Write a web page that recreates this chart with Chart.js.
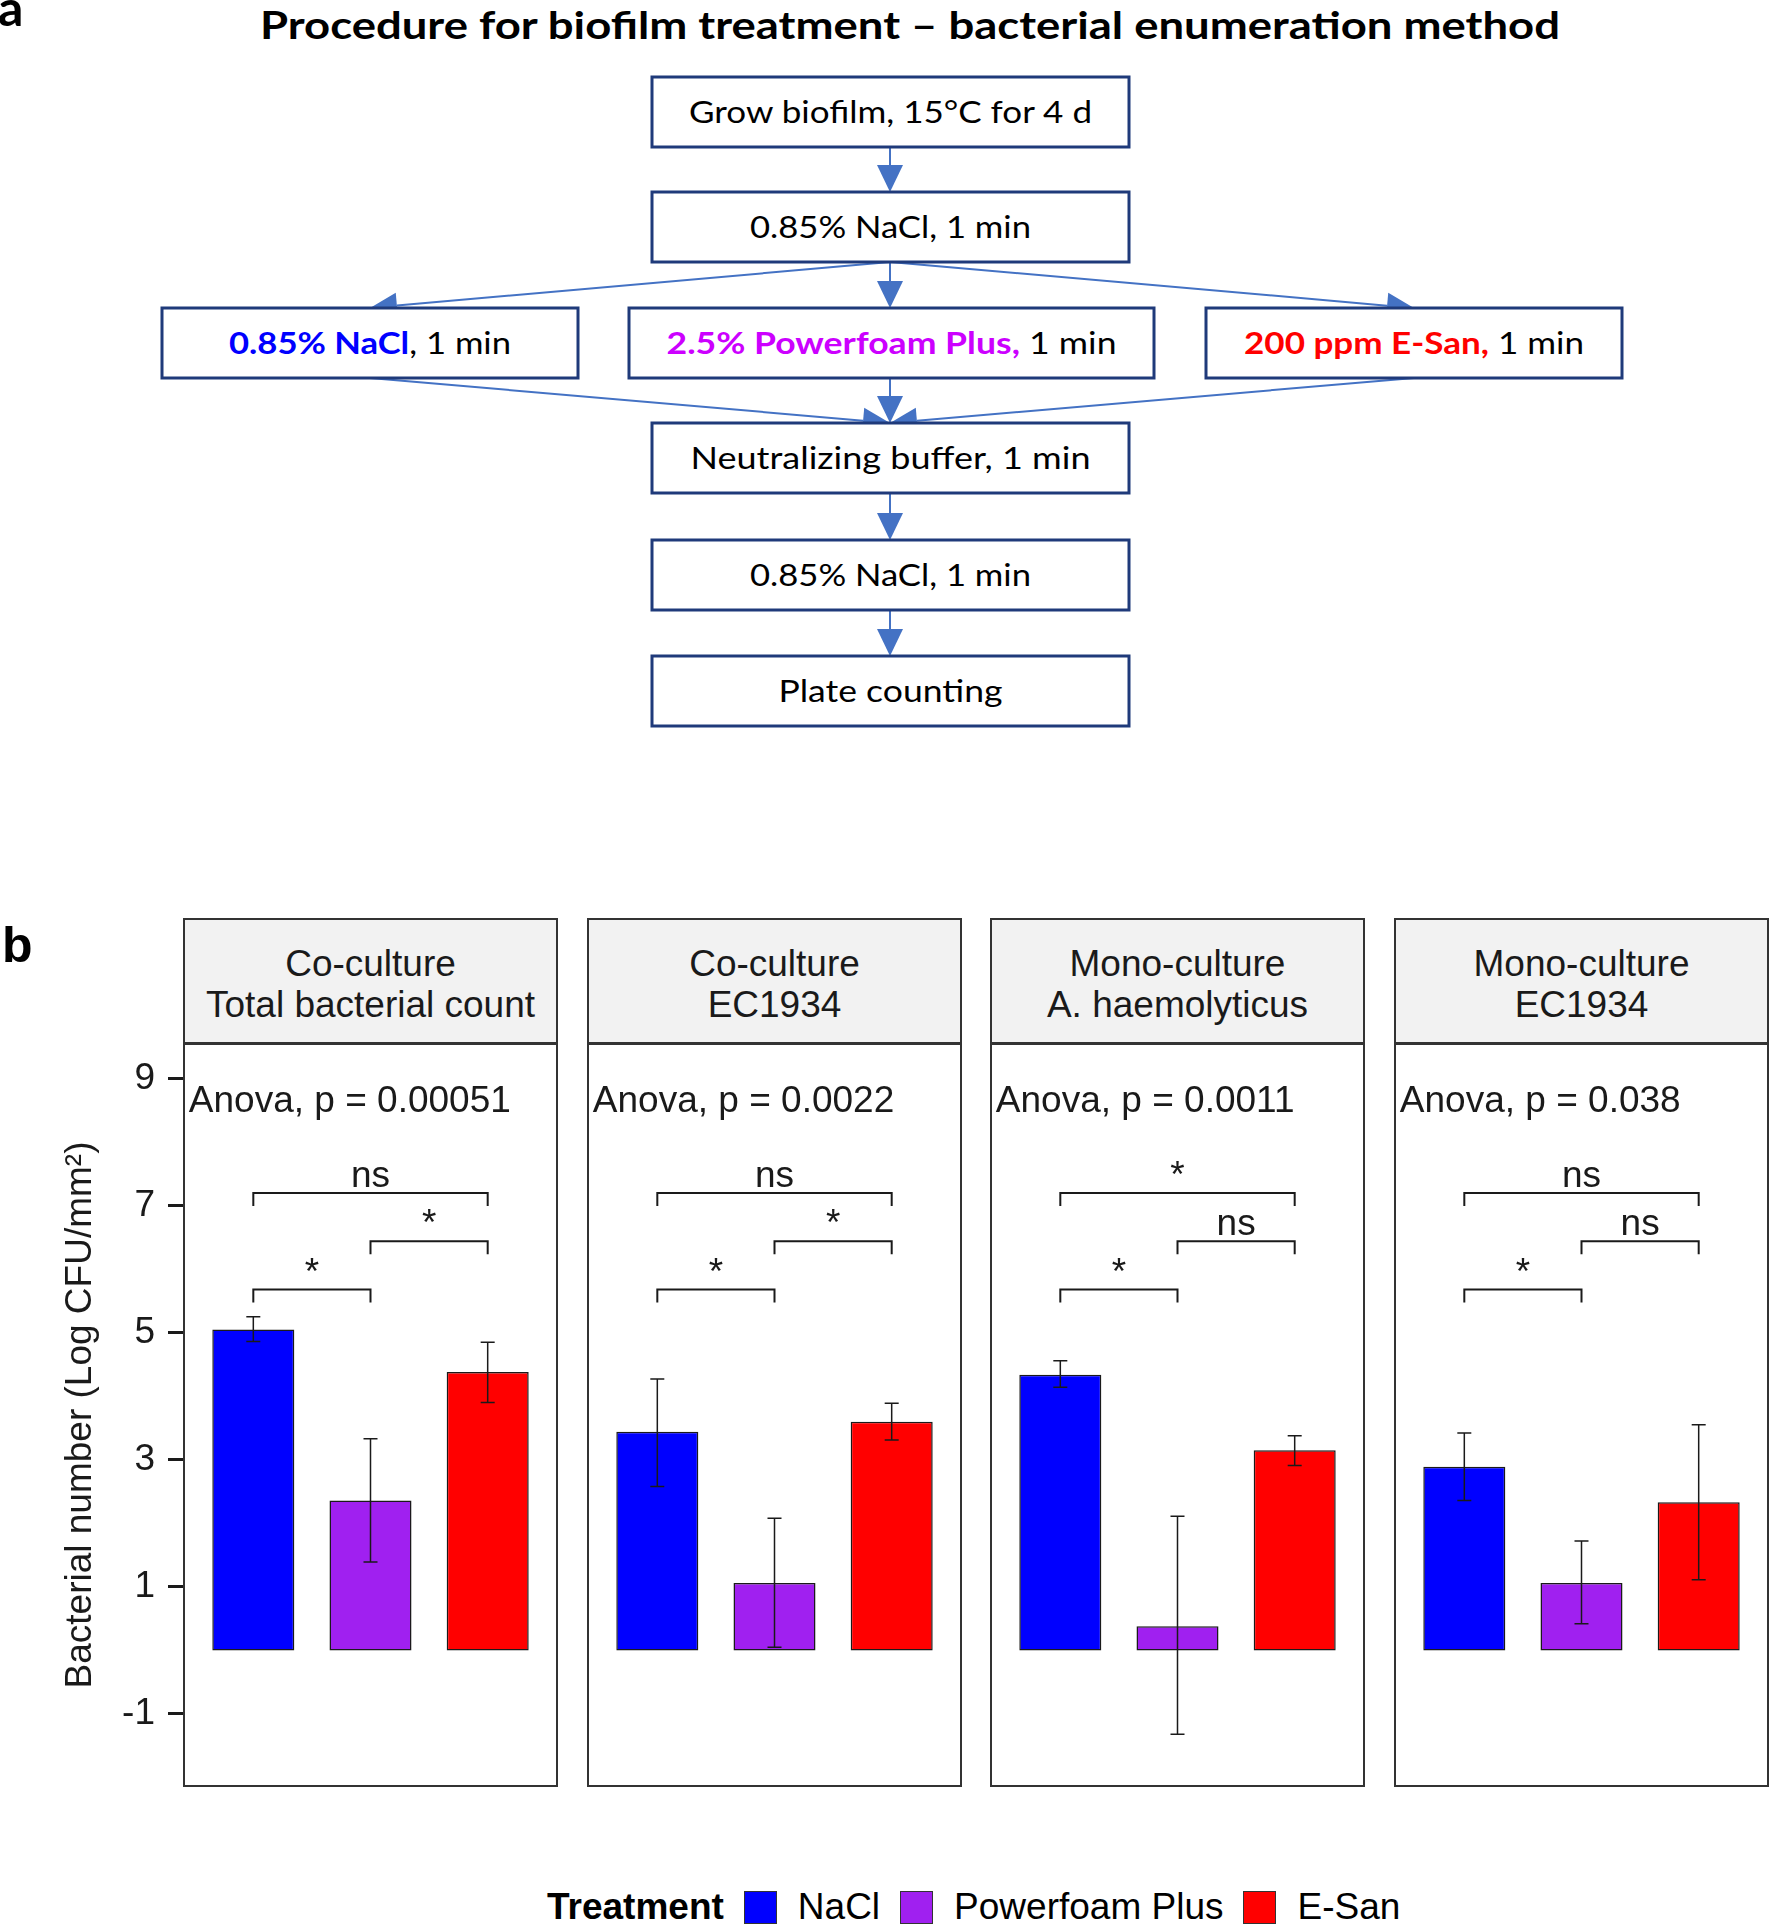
<!DOCTYPE html>
<html>
<head>
<meta charset="utf-8">
<title>Biofilm treatment - bacterial enumeration</title>
<script src="https://cdn.jsdelivr.net/npm/chart.js@4.4.1/dist/chart.umd.min.js"></script>
<style>
    html, body { margin: 0; padding: 0; background: #fff; }
    body {
        width: 1772px; height: 1925px; position: relative; overflow: hidden;
        font-family: "Liberation Sans", Arial, sans-serif; color: #1a1a1a;
    }
    #flow { position: absolute; left: 0; top: 0; }
    canvas { position: absolute; top: 1043px; }
    .strip {
        position: absolute; top: 918px; width: 375px; height: 126px;
        box-sizing: border-box; background: #f2f2f2; border: 2px solid #333;
        padding-top: 6px;
        display: flex; align-items: center; justify-content: center; text-align: center;
        font-size: 37px; line-height: 41px; color: #1a1a1a;
    }
    #legend {
        position: absolute; left: 547px; top: 1884px; height: 46px;
        display: flex; align-items: center; font-size: 37px; color: #000;
    }
    #legend .key { width: 31px; height: 31px; border: 1px solid #333; margin: 0 21px 0 20px; }
    #legend b { font-weight: bold; }
</style>
</head>
<body>
<svg id="flow" width="1772" height="1925" xmlns="http://www.w3.org/2000/svg"></svg>
<div id="strips"></div>
<canvas id="panel0" width="558" height="744" style="left:0px"></canvas>
<canvas id="panel1" width="375" height="744" style="left:587px"></canvas>
<canvas id="panel2" width="375" height="744" style="left:990px"></canvas>
<canvas id="panel3" width="375" height="744" style="left:1394px"></canvas>
<div id="legend"></div>

<script>
// ---- chart data ----
const panelTitles = [
    ['Co-culture', 'Total bacterial count'],
    ['Co-culture', 'EC1934'],
    ['Mono-culture', 'A. haemolyticus'],
    ['Mono-culture', 'EC1934']
];
const treatments = ['NaCl', 'Powerfoam Plus', 'E-San'];
const treatmentColors = ['#0000ff', '#a020f0', '#ff0000'];

// mean Log CFU/mm2 per panel, order NaCl / Powerfoam Plus / E-San
const meanLog = [
    [5.05, 2.36, 4.38],
    [3.44, 1.06, 3.60],
    [4.34, 0.38, 3.15],
    [2.89, 1.06, 2.33]
];
const errHigh = [
    [5.25, 3.33, 4.85],
    [4.27, 2.08, 3.89],
    [4.56, 2.11, 3.38],
    [3.42, 1.72, 3.55]
];
const errLow = [
    [4.86, 1.39, 3.90],
    [2.58, 0.05, 3.31],
    [4.14, -1.32, 2.91],
    [2.36, 0.42, 1.11]
];

const anovaP = ['0.00051', '0.0022', '0.0011', '0.038'];
const anovaX = 0.45;
const anovaY = 8.48;

// pairwise comparisons: groups, bracket height, label per panel
const bracketPairs = [[1, 2], [2, 3], [1, 3]];
const bracketY = [5.68, 6.44, 7.20];
const bracketLabels = [
    ['*', '*', 'ns'],
    ['*', '*', 'ns'],
    ['*', 'ns', '*'],
    ['*', 'ns', 'ns']
];

const yTicks = [-1, 1, 3, 5, 7, 9];
const yMin = -2.15;
const yMax = 9.56;

const panelLeft = [183, 587, 990, 1394];
const FONT = '"Liberation Sans", Arial, sans-serif';

// ---- flowchart (panel a) ----
const flowBoxes = [
    { x: 652, y: 77, w: 477, len: 403, parts: [['Grow biofilm, 15°C for 4 d', '#000', 400]] },
    { x: 652, y: 192, w: 477, len: 281, parts: [['0.85% NaCl, 1 min', '#000', 400]] },
    { x: 162, y: 308, w: 416, len: 282, parts: [['0.85% NaCl', '#0000ff', 700], [', 1 min', '#000', 400]] },
    { x: 629, y: 308, w: 525, len: 450, parts: [['2.5% Powerfoam Plus,', '#cc00ff', 700], [' 1 min', '#000', 400]] },
    { x: 1206, y: 308, w: 416, len: 340, parts: [['200 ppm E-San,', '#ff0000', 700], [' 1 min', '#000', 400]] },
    { x: 652, y: 423, w: 477, len: 400, parts: [['Neutralizing buffer, 1 min', '#000', 400]] },
    { x: 652, y: 540, w: 477, len: 281, parts: [['0.85% NaCl, 1 min', '#000', 400]] },
    { x: 652, y: 656, w: 477, len: 224, parts: [['Plate counting', '#000', 400]] }
];
const boxH = 70;
const flowArrows = [
    [890, 147, 890, 192],
    [890, 262, 370, 308],
    [890, 262, 890, 308],
    [890, 262, 1414, 308],
    [370, 378, 890, 423],
    [890, 378, 890, 423],
    [1414, 378, 890, 423],
    [890, 493, 890, 540],
    [890, 610, 890, 656]
];

function drawFlow() {
    const svg = document.getElementById('flow');
    let html = '';
    html += '<text x="-2" y="26" font-family="Lato, sans-serif" font-weight="700" font-size="50" fill="#000">a</text>';
    html += '<text x="910" y="39" text-anchor="middle" textLength="1300" lengthAdjust="spacingAndGlyphs" ' +
        'font-family="Lato, sans-serif" font-weight="700" font-size="38" fill="#000">' +
        'Procedure for biofilm treatment \u2013 bacterial enumeration method</text>';
    html += '<text x="2" y="962" font-family="' + FONT.replace(/"/g, "'") + '" font-weight="700" font-size="50" fill="#000">b</text>';

    // arrows first so boxes cover the ends like in the original
    flowArrows.forEach(([x1, y1, x2, y2]) => {
        const dx = x2 - x1, dy = y2 - y1;
        const d = Math.hypot(dx, dy);
        const ux = dx / d, uy = dy / d;
        const L = 27, W = 13;
        const bx = x2 - ux * L, by = y2 - uy * L;
        html += `<line x1="${x1}" y1="${y1}" x2="${bx}" y2="${by}" stroke="#4472c4" stroke-width="2"/>`;
        html += `<polygon points="${x2},${y2} ${bx - uy * W},${by + ux * W} ${bx + uy * W},${by - ux * W}" fill="#4472c4"/>`;
    });

    flowBoxes.forEach(b => {
        html += `<rect x="${b.x}" y="${b.y}" width="${b.w}" height="${boxH}" fill="#fff" stroke="#1f3a7a" stroke-width="3"/>`;
        const spans = b.parts.map(([t, c, wgt]) =>
            `<tspan fill="${c}" font-weight="${wgt}">${t}</tspan>`).join('');
        html += `<text x="${b.x + b.w / 2}" y="${b.y + boxH / 2 + 11}" text-anchor="middle" ` +
            `textLength="${b.len}" lengthAdjust="spacingAndGlyphs" font-family="Lato, sans-serif" ` +
            `font-size="31" xml:space="preserve">${spans}</text>`;
    });
    svg.innerHTML = html;
}

// ---- facet strips + legend ----
function drawStrips() {
    const holder = document.getElementById('strips');
    holder.innerHTML = panelTitles.map((lines, i) =>
        `<div class="strip" style="left:${panelLeft[i]}px">${lines.join('<br>')}</div>`).join('');

    const legend = document.getElementById('legend');
    legend.innerHTML = '<b>Treatment</b>' + treatments.map((t, i) =>
        `<span class="key" style="background:${treatmentColors[i]}"></span><span>${t}</span>`).join('');
}

// ---- error bars, brackets, anova label, panel border ----
const decorPlugin = {
    id: 'decor',
    afterDatasetsDraw(chart, args, opts) {
        const p = opts.panel;
        const { ctx, chartArea: a } = chart;
        const x = chart.scales.x, y = chart.scales.y;
        ctx.save();

        ctx.strokeStyle = '#1a1a1a';
        ctx.lineWidth = 1.5;
        meanLog[p].forEach((v, i) => {
            const px = x.getPixelForValue(i + 1);
            const yt = y.getPixelForValue(errHigh[p][i]);
            const yb = y.getPixelForValue(errLow[p][i]);
            ctx.beginPath();
            ctx.moveTo(px, yt); ctx.lineTo(px, yb);
            ctx.moveTo(px - 7, yt); ctx.lineTo(px + 7, yt);
            ctx.moveTo(px - 7, yb); ctx.lineTo(px + 7, yb);
            ctx.stroke();
        });

        ctx.lineWidth = 2;
        ctx.fillStyle = '#1a1a1a';
        ctx.font = '37px ' + FONT;
        ctx.textAlign = 'center';
        ctx.textBaseline = 'alphabetic';
        bracketPairs.forEach(([g1, g2], k) => {
            const x1 = x.getPixelForValue(g1);
            const x2 = x.getPixelForValue(g2);
            const by = y.getPixelForValue(bracketY[k]);
            ctx.beginPath();
            ctx.moveTo(x1, by + 13); ctx.lineTo(x1, by);
            ctx.lineTo(x2, by); ctx.lineTo(x2, by + 13);
            ctx.stroke();
            ctx.fillText(bracketLabels[p][k], (x1 + x2) / 2, by - 6);
        });

        ctx.textAlign = 'left';
        ctx.fillText('Anova, p = ' + anovaP[p], x.getPixelForValue(anovaX), y.getPixelForValue(anovaY));

        ctx.strokeStyle = '#333';
        ctx.lineWidth = 2;
        ctx.strokeRect(a.left + 1, a.top + 1, a.right - a.left - 2, a.bottom - a.top - 2);
        ctx.restore();
    }
};

function makePanel(p) {
    const first = p === 0;
    new Chart(document.getElementById('panel' + p), {
        type: 'bar',
        data: {
            datasets: [{
                label: panelTitles[p].join(' '),
                data: meanLog[p].map((v, i) => ({ x: i + 1, y: v })),
                backgroundColor: treatmentColors,
                borderColor: '#1a1a1a',
                borderWidth: 1.5,
                borderSkipped: false,
                barPercentage: 0.7,
                categoryPercentage: 1.0
            }]
        },
        options: {
            responsive: false,
            animation: false,
            devicePixelRatio: 1,
            layout: { padding: 0 },
            plugins: {
                legend: { display: false },
                tooltip: { enabled: false },
                decor: { panel: p }
            },
            scales: {
                x: {
                    type: 'linear', min: 0.4, max: 3.6, offset: false, display: false,
                    // one tick per treatment so the bar ruler spacing equals one group
                    afterBuildTicks: ax => { ax.ticks = treatments.map((t, i) => ({ value: i + 1 })); }
                },
                y: {
                    type: 'linear',
                    min: yMin,
                    max: yMax,
                    display: first,
                    afterBuildTicks: ax => { ax.ticks = yTicks.map(v => ({ value: v })); },
                    afterFit: ax => {
                        if (!first) return;
                        ax.width = 183;
                        ax.paddingTop = 0;
                        ax.paddingBottom = 0;
                    },
                    grid: {
                        drawOnChartArea: false, drawTicks: true,
                        tickLength: 15, tickWidth: 3, tickColor: '#1a1a1a'
                    },
                    border: { display: false },
                    ticks: { padding: 13, color: '#1a1a1a', font: { family: FONT, size: 37 } },
                    title: {
                        display: true,
                        text: 'Bacterial number (Log CFU/mm\u00b2)',
                        color: '#1a1a1a',
                        font: { family: FONT, size: 37 },
                        padding: { top: 59, bottom: 0 }
                    }
                }
            }
        },
        plugins: [decorPlugin]
    });
}

drawFlow();
drawStrips();
[0, 1, 2, 3].forEach(makePanel);
</script>
</body>
</html>
